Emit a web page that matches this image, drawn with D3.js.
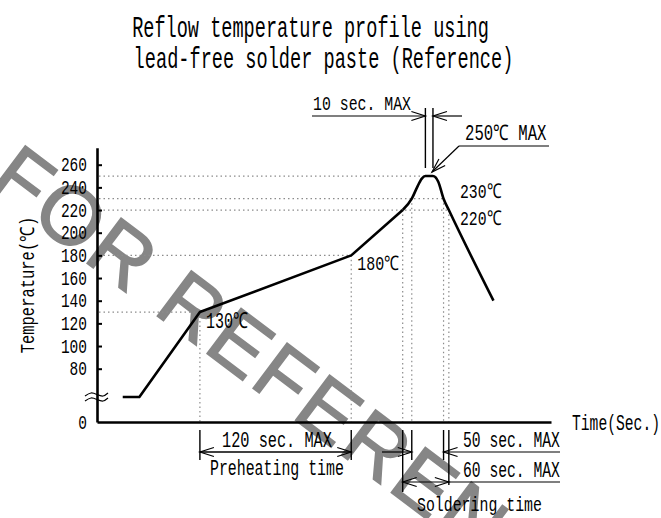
<!DOCTYPE html>
<html>
<head>
<meta charset="utf-8">
<script src="https://cdn.jsdelivr.net/npm/d3@7"></script>
<style>
  body { margin: 0; background: #fff; }
  text { font-family: "Liberation Mono", "DejaVu Sans Mono", monospace; fill: #000; }
</style>
</head>
<body>
<div id="chart"></div>
<script>
//reflow profile points (time in sec, temperature in C)
const timeSec = [17, 28, 68, 168, 202, 208, 211.5, 214.5, 217, 222, 225.5, 229, 232.5, 262]
const tempC   = [25, 25, 130, 180, 220, 230, 240, 247.5, 250, 250, 245, 230, 220, 140]

//y axis tick labels
const yTicks = [0, 80, 100, 120, 140, 160, 180, 200, 220, 240, 260]

//horizontal reference lines: temperature and the time where they stop
const hRefTemp = [130, 180, 220, 230, 250]
const hRefTime = [68, 168, 232.5, 229, 215]

//vertical reference lines: time and the temperature where they start
const vRefTime = [68, 168, 202, 208, 229, 232.5]
const vRefTemp = [130, 180, 220, 230, 230, 220]

//time windows used by the dimension arrows
const preheat = [68, 168]
const soldering = [202, 232.5]
const above230 = [208, 229]
const peakHold = [217, 222]

//set the dimensions of the drawing
const width = 661, height = 518

const svg = d3.select("#chart")
  .append("svg")
  .attr("width", width)
  .attr("height", height)

//scales - the y axis is broken between 25 and 80
const x = d3.scaleLinear().domain([0, 300]).range([97, 551])
const y = d3.scaleLinear().domain([0, 25, 80, 275]).range([422, 397, 368.7, 147.7])

//watermark goes under everything
svg.append("text")
  .attr("transform", "translate(-14,187) rotate(37)")
  .style("font-family", "'Liberation Sans', Arial, sans-serif")
  .style("font-size", "82px")
  .style("fill", "#868686")
  .style("stroke", "#868686")
  .style("stroke-width", 1.6)
  .style("letter-spacing", "3px")
  .text("FOR REFERENCE")

//helper for the cad style labels: squeeze the mono font to the wanted width
function label(str, px, py, size, len, anchor) {
  const t = svg.append("text")
    .attr("text-anchor", anchor || "start")
    .style("font-size", size + "px")
    .text(str)
  const s = len / t.node().getComputedTextLength()
  t.attr("transform", `translate(${px},${py}) scale(${s},1)`)
  return t
}

//open arrow head, (ux,uy) is the direction of travel
function arrowHead(tx, ty, ux, uy) {
  const L = 14, W = 4.5
  const nx = -uy, ny = ux
  svg.append("path")
    .attr("d", `M${tx - L*ux + W*nx},${ty - L*uy + W*ny}L${tx},${ty}L${tx - L*ux - W*nx},${ty - L*uy - W*ny}`)
    .style("fill", "none")
    .style("stroke", "#000")
    .style("stroke-width", 1.2)
}

function thinLine(x1, y1, x2, y2, w) {
  svg.append("line")
    .attr("x1", x1).attr("y1", y1)
    .attr("x2", x2).attr("y2", y2)
    .style("stroke", "#000")
    .style("stroke-width", w || 1.2)
}

//title
label("Reflow temperature profile using", 310.5, 37, 30, 357, "middle")
label("lead-free solder paste (Reference)", 323.5, 68, 30, 380, "middle")

//dotted reference lines
const dots = svg.append("g")
  .style("stroke", "#8c8c8c")
  .style("stroke-width", 1.2)
  .style("stroke-dasharray", "1.5,3")

dots.selectAll(".h")
  .data(hRefTemp)
  .join("line")
    .attr("x1", x(0) + 2)
    .attr("x2", (d, i) => x(hRefTime[i]))
    .attr("y1", d => y(d))
    .attr("y2", d => y(d))

dots.selectAll(".v")
  .data(vRefTime)
  .join("line")
    .attr("x1", d => x(d))
    .attr("x2", d => x(d))
    .attr("y1", (d, i) => y(vRefTemp[i]))
    .attr("y2", y(0))

//y axis with inward ticks
const yAxis = svg.append("g")
  .attr("transform", `translate(${x(0)},0)`)
  .call(d3.axisLeft(y).tickValues(yTicks).tickSize(-5).tickSizeOuter(0).tickPadding(10))
yAxis.select(".domain").style("stroke-width", 2.6)
yAxis.selectAll(".tick line").style("stroke-width", 2).filter(d => d == 0).remove()
yAxis.selectAll(".tick text")
  .style("font-size", "19.5px")
  .style("font-family", "'Liberation Mono', monospace")
  .each(function(d) {
    const s = String(d).length * 8.7 / this.getComputedTextLength()
    d3.select(this).attr("transform", `scale(${s},1)`).attr("x", -10 / s)
  })

//x axis, no ticks
const xAxis = svg.append("g")
  .attr("transform", `translate(0,${y(0)})`)
  .call(d3.axisBottom(x).tickValues([]).tickSizeOuter(0))
xAxis.select(".domain").style("stroke-width", 2.6)

//break mark on the y axis
const wave = d3.line().curve(d3.curveNatural)
const waveOffsets = [[-12, 1.5], [-6, -1.5], [0, 0], [6, 1.5], [11, -1.5]]
;[-2.5, 2.5].forEach(dy => {
  svg.append("path")
    .attr("d", wave(waveOffsets.map(p => [x(0) + p[0], y(25) + dy + p[1]])))
    .style("fill", "none")
    .style("stroke", "#000")
    .style("stroke-width", 1.2)
})

//profile curve: straight up to 220C, smooth over the peak
const profile = timeSec.map((t, i) => ({t: t, v: tempC[i]}))
const straight = d3.line().x(d => x(d.t)).y(d => y(d.v))
const smooth = d3.line().x(d => x(d.t)).y(d => y(d.v)).curve(d3.curveMonotoneX)
svg.append("path")
  .attr("d", straight(profile.slice(0, 5)))
  .style("fill", "none").style("stroke", "#000").style("stroke-width", 2.6)
  .style("stroke-linejoin", "round")
svg.append("path")
  .attr("d", smooth(profile.slice(4)))
  .style("fill", "none").style("stroke", "#000").style("stroke-width", 2.6)
  .style("stroke-linejoin", "round")

//axis titles
const yTitle = svg.append("text")
  .attr("text-anchor", "middle")
  .style("font-size", "19.5px")
  .text("Temperature(℃)")
yTitle.attr("transform", `translate(34,285) rotate(-90) scale(${136 / yTitle.node().getComputedTextLength()},1)`)
label("Time(Sec.)", 660, 430, 22, 88, "end")

//temperature labels
label("130℃", x(preheat[0]) + 6, y(130) + 16, 22, 42)
label("180℃", x(preheat[1]) + 6, y(180) + 15, 20, 42)
label("230℃", 460, y(230) - 1, 20.5, 41)
label("220℃", 460, y(220) + 15, 20.5, 41)

//top: 10 sec max at the peak
peakHold.forEach(t => thinLine(x(t), 108, x(t), 168, 1.4))
label("10 sec. MAX", 313, 110, 20, 98)
thinLine(312, 116, x(peakHold[0]), 116)
arrowHead(x(peakHold[0]), 116, 1, 0)
thinLine(462, 116, x(peakHold[1]), 116)
arrowHead(x(peakHold[1]), 116, -1, 0)

//top: 250C max leader
label("250℃ MAX", 465, 140, 21.5, 81)
thinLine(459, 146, 549, 146)
const tipX = x(peakHold[1]) - 1, tipY = y(250) - 4
thinLine(459, 146, tipX, tipY)
const lx = tipX - 459, ly = tipY - 146, ll = Math.hypot(lx, ly)
arrowHead(tipX, tipY, lx / ll, ly / ll)

//bottom: dimension ticks below the axis
const tickTop = y(0) + 8
;[preheat[0], preheat[1], above230[0], above230[1]].forEach(t => thinLine(x(t), tickTop, x(t), 460, 1.4))
thinLine(x(soldering[0]), tickTop, x(soldering[0]), 492, 1.4)
thinLine(x(soldering[1]), tickTop, x(soldering[1]), 485, 1.4)

//preheating window
thinLine(x(preheat[0]), 452, x(preheat[1]), 452, 1.6)
arrowHead(x(preheat[0]), 452, -1, 0)
arrowHead(x(preheat[1]), 452, 1, 0)
label("120 sec. MAX", 222, 447, 22, 110)
label("Preheating time", 210, 475, 22, 134)

//time above 230C
thinLine(382, 452, x(above230[0]), 452)
arrowHead(x(above230[0]), 452, 1, 0)
thinLine(560, 452, x(above230[1]), 452)
arrowHead(x(above230[1]), 452, -1, 0)
label("50 sec. MAX", 463, 447, 22, 97)

//soldering window above 220C
thinLine(x(soldering[0]), 482, 560, 482)
arrowHead(x(soldering[0]), 482, -1, 0)
arrowHead(x(soldering[1]), 482, 1, 0)
label("60 sec. MAX", 463, 477, 22, 97)
label("Soldering time", 417, 511, 21, 125)
</script>
</body>
</html>
